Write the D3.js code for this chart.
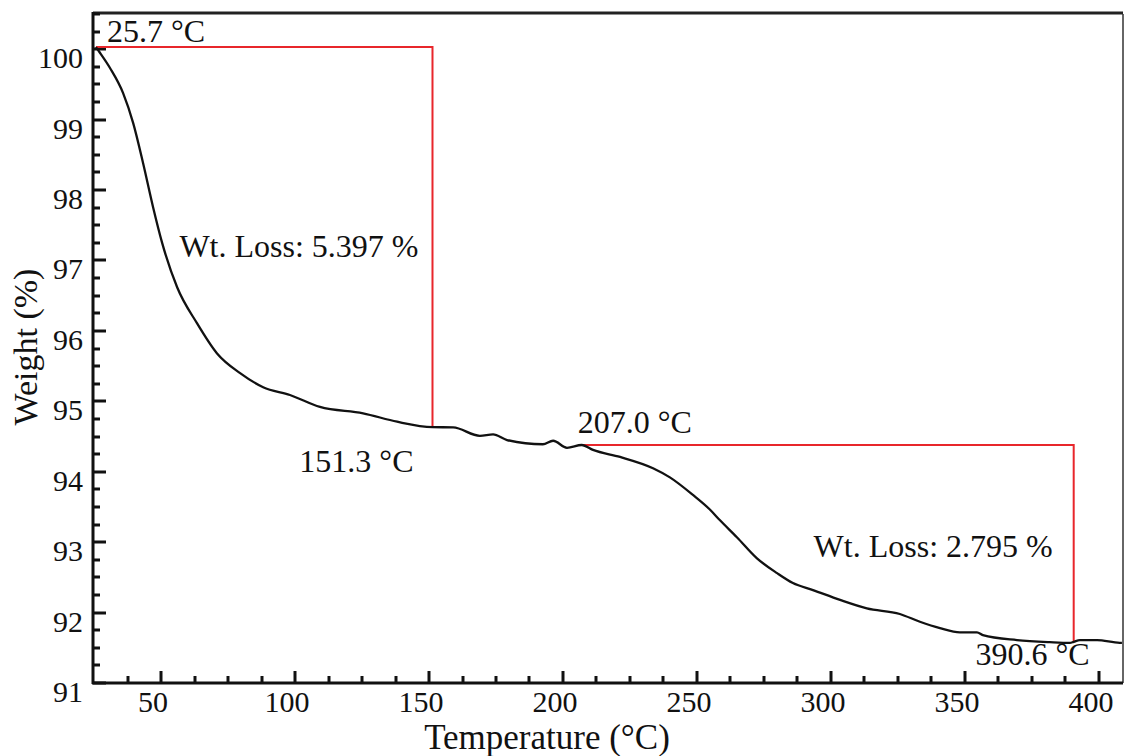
<!DOCTYPE html>
<html>
<head>
<meta charset="utf-8">
<script src="https://cdn.jsdelivr.net/npm/d3@7"></script>
<style>
  html, body { margin: 0; padding: 0; background: #fff; }
  svg { display: block; }
  text { font-family: "Liberation Serif", "DejaVu Serif", serif; fill: #111; }
</style>
</head>
<body>
<svg id="tga"></svg>
<script>
// TGA trace: temperature (°C) vs remaining weight (%)
var tempC = [25.7, 27.0, 31.0, 35.8, 39.6, 43.3, 47.0, 50.4, 56.0, 63.4, 70.9, 79.5, 88.1, 98.1,
  109.3, 125.4, 138.1, 151.3, 159.0, 169.0, 173.9, 179.1, 192.5, 196.3, 201.5, 207.0, 211.2,
  221.3, 233.6, 239.9, 248.5, 254.9, 258.6, 264.9, 272.4, 279.9, 285.8, 293.3, 303.4, 313.4,
  325.7, 333.2, 340.7, 348.1, 354.5, 356.7, 369.4, 381.7, 389.2, 390.6, 392.9, 399.3, 407.8, 408.6];
var weightPct = [100.03, 99.96, 99.73, 99.38, 98.95, 98.38, 97.76, 97.25, 96.62, 96.11, 95.68, 95.40, 95.20, 95.09,
  94.92, 94.83, 94.71, 94.633, 94.63, 94.51, 94.53, 94.45, 94.39, 94.44, 94.34, 94.38, 94.31,
  94.21, 94.05, 93.92, 93.67, 93.46, 93.31, 93.07, 92.77, 92.56, 92.42, 92.32, 92.18, 92.06,
  91.98, 91.87, 91.78, 91.72, 91.72, 91.68, 91.61, 91.58, 91.57, 91.585, 91.61, 91.61, 91.57, 91.57];

// weight-loss steps
var stepStartT = [25.7, 207.0];
var stepEndT = [151.3, 390.6];
var stepStartW = [100.03, 94.38];
var stepLoss = [5.397, 2.795];

var xMajorTicks = [50, 100, 150, 200, 250, 300, 350, 400];
var yMajorTicks = [91, 92, 93, 94, 95, 96, 97, 98, 99, 100];

var W = 1126, H = 756;
var margin = {top: 14, right: 3, bottom: 73, left: 93};
var xDomain = [24.6, 409], yDomain = [91, 100.5];

var svg = d3.select("#tga").attr("width", W).attr("height", H);

var x = d3.scaleLinear().domain(xDomain).range([margin.left, W - margin.right]);
var y = d3.scaleLinear().domain(yDomain).range([H - margin.bottom, margin.top]);

var x0 = x.range()[0], x1 = x.range()[1];
var y0 = y.range()[0], y1 = y.range()[1];

// minor ticks every quarter of a major step
var xMinorTicks = d3.range(37.5, xDomain[1], 12.5).filter(function(t) { return t % 50 != 0; });
var yMinorTicks = d3.range(91.25, yDomain[1] + 0.01, 0.25).filter(function(t) { return t % 1 != 0; });

// tick labels
svg.append("g").selectAll("text").data(xMajorTicks).join("text")
  .attr("x", function(d) { return x(d) - 8; })
  .attr("y", y0 + 29)
  .attr("text-anchor", "middle")
  .style("font-size", "30px")
  .text(d3.format("d"));
svg.append("g").selectAll("text").data(yMajorTicks).join("text")
  .attr("x", x0 - 10)
  .attr("y", function(d) { return y(d) + 19; })
  .attr("text-anchor", "end")
  .style("font-size", "30px")
  .text(d3.format("d"));

// frame
svg.append("line").attr("x1", x0).attr("x2", x1).attr("y1", y1 - 1).attr("y2", y1 - 1)
  .attr("stroke", "#222").attr("stroke-width", 3);
svg.append("line").attr("x1", x1).attr("x2", x1).attr("y1", y1).attr("y2", y0)
  .attr("stroke", "#333").attr("stroke-width", 1.5);
svg.append("line").attr("x1", x0 - 1).attr("x2", x1).attr("y1", y0).attr("y2", y0)
  .attr("stroke", "#111").attr("stroke-width", 3);
svg.append("line").attr("x1", x0).attr("x2", x0).attr("y1", y1 - 2).attr("y2", y0 + 1)
  .attr("stroke", "#111").attr("stroke-width", 3);

// inward tick marks: [value, length]
var xTickMarks = xMinorTicks.map(function(t) { return [t, 7]; })
  .concat(xMajorTicks.map(function(t) { return [t, 12]; }));
var yTickMarks = yMinorTicks.map(function(t) { return [t, 7]; })
  .concat(yMajorTicks.map(function(t) { return [t, 13]; }));

var tickG = svg.append("g");
tickG.selectAll(".xt").data(xTickMarks).join("line").attr("class", "xt")
  .attr("x1", function(d) { return Math.round(x(d[0])); })
  .attr("x2", function(d) { return Math.round(x(d[0])); })
  .attr("y1", y0).attr("y2", function(d) { return y0 - d[1]; })
  .attr("stroke", "#111").attr("stroke-width", 3);
tickG.selectAll(".yt").data(yTickMarks).join("line").attr("class", "yt")
  .attr("y1", function(d) { return Math.round(y(d[0])); })
  .attr("y2", function(d) { return Math.round(y(d[0])); })
  .attr("x1", x0).attr("x2", function(d) { return x0 + d[1]; })
  .attr("stroke", "#111").attr("stroke-width", 3);

// step markers
var red = "#e8262b";
stepStartT.forEach(function(t, i) {
  var wEnd = stepStartW[i] - stepLoss[i];
  svg.append("path")
    .attr("d", "M" + x(t) + "," + y(stepStartW[i]) +
               "H" + x(stepEndT[i]) + "V" + y(wEnd))
    .attr("fill", "none").attr("stroke", red).attr("stroke-width", 2);
});

// weight curve
var pts = tempC.map(function(t, i) { return [t, weightPct[i]]; });
svg.append("path")
  .datum(pts)
  .attr("fill", "none")
  .attr("stroke", "#111")
  .attr("stroke-width", 2.3)
  .attr("stroke-linejoin", "round")
  .attr("d", d3.line().x(function(d) { return x(d[0]); }).y(function(d) { return y(d[1]); })
    .curve(d3.curveMonotoneX));

// annotations
function label(txt, px, py, anchor) {
  svg.append("text").attr("x", px).attr("y", py)
    .attr("text-anchor", anchor)
    .style("font-size", "32px")
    .text(txt);
}
var fmtT = d3.format(".1f");
var w1End = stepStartW[0] - stepLoss[0], w2End = stepStartW[1] - stepLoss[1];
label(fmtT(stepStartT[0]) + " °C", x(stepStartT[0]) + 11, y(stepStartW[0]) - 5, "start");
label("Wt. Loss: " + stepLoss[0].toFixed(3) + " %", x(stepEndT[0]) - 14, (y(stepStartW[0]) + y(w1End)) / 2 + 20, "end");
label(fmtT(stepEndT[0]) + " °C", x(stepEndT[0]) - 19, y(w1End) + 45, "end");
label(fmtT(stepStartT[1]) + " °C", x(stepStartT[1]) - 4, y(stepStartW[1]) - 12, "start");
label("Wt. Loss: " + stepLoss[1].toFixed(3) + " %", x(stepEndT[1]) - 21, (y(stepStartW[1]) + y(w2End)) / 2 + 14, "end");
label(fmtT(stepEndT[1]) + " °C", x(stepEndT[1]) + 16, y(w2End) + 23, "end");

// axis titles
svg.append("text")
  .attr("x", 547).attr("y", 749)
  .attr("text-anchor", "middle")
  .style("font-size", "35px")
  .text("Temperature (°C)");

svg.append("text")
  .attr("transform", "translate(37,347) rotate(-90)")
  .attr("text-anchor", "middle")
  .style("font-size", "34px")
  .text("Weight (%)");
</script>
</body>
</html>
